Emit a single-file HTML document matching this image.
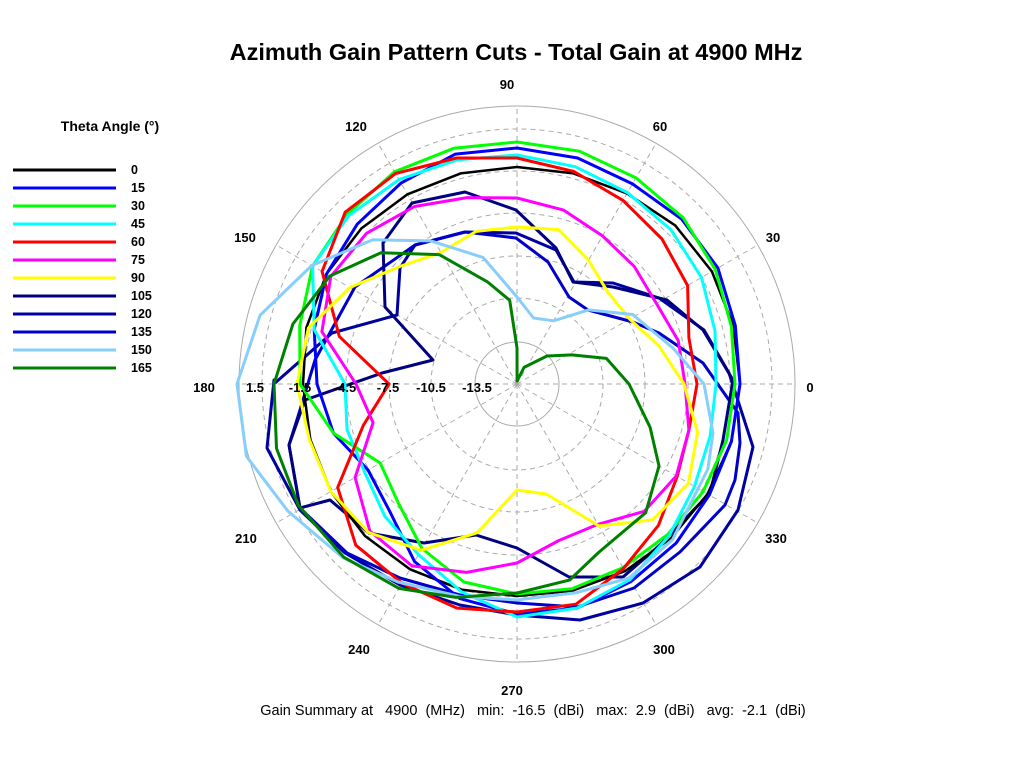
<!DOCTYPE html>
<html><head><meta charset="utf-8"><style>
html,body{margin:0;padding:0;background:#fff;}
svg{display:block;font-family:"Liberation Sans",Arial,sans-serif;}
</style></head><body>
<svg id="s" width="1033" height="768" viewBox="0 0 1033 768" xmlns="http://www.w3.org/2000/svg">
<rect width="1033" height="768" fill="#fff"/>
<text x="516" y="60" font-size="23.5" font-weight="bold" text-anchor="middle">Azimuth Gain Pattern Cuts - Total Gain at 4900 MHz</text>
<g id="grid" stroke="#aaa" fill="none" stroke-width="1"></g>
<g id="traces" fill="none" stroke-width="3" stroke-linejoin="round"></g>
<g font-size="13" font-weight="bold" text-anchor="middle">
<text x="507" y="89">90</text><text x="660" y="131">60</text><text x="773" y="242">30</text>
<text x="810" y="392">0</text><text x="776" y="543">330</text><text x="664" y="654">300</text>
<text x="512" y="695">270</text><text x="359" y="654">240</text><text x="246" y="543">210</text>
<text x="204" y="392">180</text><text x="245" y="242">150</text><text x="356" y="131">120</text>
<text x="255" y="392">1.5</text><text x="300" y="392">-1.5</text><text x="345" y="392">-4.5</text>
<text x="388" y="392">-7.5</text><text x="431" y="392">-10.5</text><text x="477" y="392">-13.5</text>
</g>
<text x="533" y="715" font-size="14.5" text-anchor="middle">Gain Summary at &#160; 4900 &#160;(MHz) &#160; min: &#160;-16.5 &#160;(dBi) &#160; max: &#160;2.9 &#160;(dBi) &#160; avg: &#160;-2.1 &#160;(dBi)</text>
<text x="110" y="131" font-size="14" font-weight="bold" text-anchor="middle">Theta Angle (°)</text>
<g id="legend" font-size="12.5" font-weight="bold"></g>
</svg>
<script>
var NS="http://www.w3.org/2000/svg",cx=517,cy=384;
function el(t,a,p){var e=document.createElementNS(NS,t);for(var k in a)e.setAttribute(k,a[k]);p.appendChild(e);return e;}
var g=document.getElementById('grid');
[42,86,128,171,213,255,278].forEach(function(r,i){el('circle',{cx:cx,cy:cy,r:r,'stroke-dasharray':(i==0||i==6)?'':'5,4'},g);});
for(var a=0;a<360;a+=30){var t=a*Math.PI/180;el('line',{x1:cx,y1:cy,x2:cx+278*Math.cos(t),y2:cy-278*Math.sin(t),'stroke-dasharray':'5,4'},g);}
function polar(arr){return arr.map(function(r,i){var t=i*15*Math.PI/180;return (cx+r*Math.cos(t)).toFixed(1)+','+(cy-r*Math.sin(t)).toFixed(1);}).join(' ');}
function polarP(pairs){return pairs.map(function(p){var t=p[0]*Math.PI/180;return (cx+p[1]*Math.cos(t)).toFixed(1)+','+(cy-p[1]*Math.sin(t)).toFixed(1);}).join(' ');}
var tr=document.getElementById('traces');
function poly(pts,c,w){el('polygon',{points:pts,stroke:c,'stroke-width':w||3},tr);}
function pix(a){return a.map(function(p){return p[0]+','+p[1];}).join(' ');}
poly(pix([[516,233],[556,250],[574,282],[613,283],[659,298],[704,330],[729,373],[753,447],[738,510],[700,567],[643,603],[580,620],[517,615],[460,605],[400,585],[345,553],[300,510],[267,448],[274,380],[275,383],[332,333],[397,315],[400,268],[415,245],[465,232]]),'#0000A0');
poly(pix([[516,238],[548,262],[569,297],[588,310],[633,322],[659,333],[703,363],[738,413],[740,443],[735,480],[725,505],[680,552],[634,588],[577,607],[517,603],[460,595],[400,578],[347,553],[300,508],[289,445],[300,410],[315,360],[355,287],[415,245],[465,232]]),'#0000C8');
poly(pix([[516,210],[556,248],[573,282],[613,287],[667,300],[703,330],[733,380],[723,440],[710,493],[660,545],[623,577],[569,577],[517,548],[476,535],[424,543],[369,533],[330,500],[300,508],[289,445],[305,400],[382,373],[433,360],[385,307],[383,243],[412,203],[465,192]]),'#000080');
poly(polar([223,224,225,224,220,218,217,218,219,220,220,218,214,214,215,215,214,213,212,214,216,218,220,222]),'#000',2.5);
poly(polar([223,226,232,233,231,234,236,238,232,226,220,210,200,190,172,180,205,222,230,232,228,225,222,222]),'#0000FF');
poly(polar([218,222,229,235,238,241,242,244,245,240,236,225,217,190,158,168,190,205,210,212,212,213,215,217]),'#00FF00');
poly(polar([199,205,213,218,221,225,229,232,236,238,236,210,172,176,176,187,197,215,233,232,226,215,205,200]),'#00FFFF');
poly(polar([180,178,197,205,212,220,226,234,243,243,225,184,128,159,207,228,230,232,228,228,213,200,185,178]),'#FF0000');
poly(polar([168,167,161,166,171,180,186,193,205,213,215,202,161,149,187,208,210,195,179,162,162,180,184,178]),'#FF00FF');
poly(polar([167,147,130,129,143,160,157,158,152,166,193,216,220,215,215,210,192,154,106,114,164,192,198,187]),'#FFFF00');
poly(polarP([[0,187],[13,160],[31,135],[46,103],[60,73],[76,68],[90,87],[105,131],[121,167],[135,204],[150,237],[165,266],[180,280],[195,280],[209,262],[225,246],[239,231],[255,220],[270,216],[286,217],[300,224],[315,220],[336,209],[346,202]]),'#87CEFA');
poly(polarP([[0,112],[16,93],[28,62],[43,41],[67,18],[88,3],[90,36],[95,84],[106,106],[121,151],[136,189],[150,216],[165,232],[180,243],[195,249],[209,250],[225,245],[240,236],[254,222],[270,209],[285,203],[296,187],[315,182],[330,164],[342,140]]),'#008000');
var L=document.getElementById('legend');
[['0','#000'],['15','#0000FF'],['30','#00FF00'],['45','#00FFFF'],['60','#FF0000'],['75','#FF00FF'],['90','#FFFF00'],['105','#000080'],['120','#0000A0'],['135','#0000C8'],['150','#87CEFA'],['165','#008000']].forEach(function(d,i){var y=170+i*18;el('line',{x1:13,y1:y,x2:116,y2:y,stroke:d[1],'stroke-width':3},L);var t=el('text',{x:131,y:y+4},L);t.textContent=d[0];});
</script>
</body></html>
